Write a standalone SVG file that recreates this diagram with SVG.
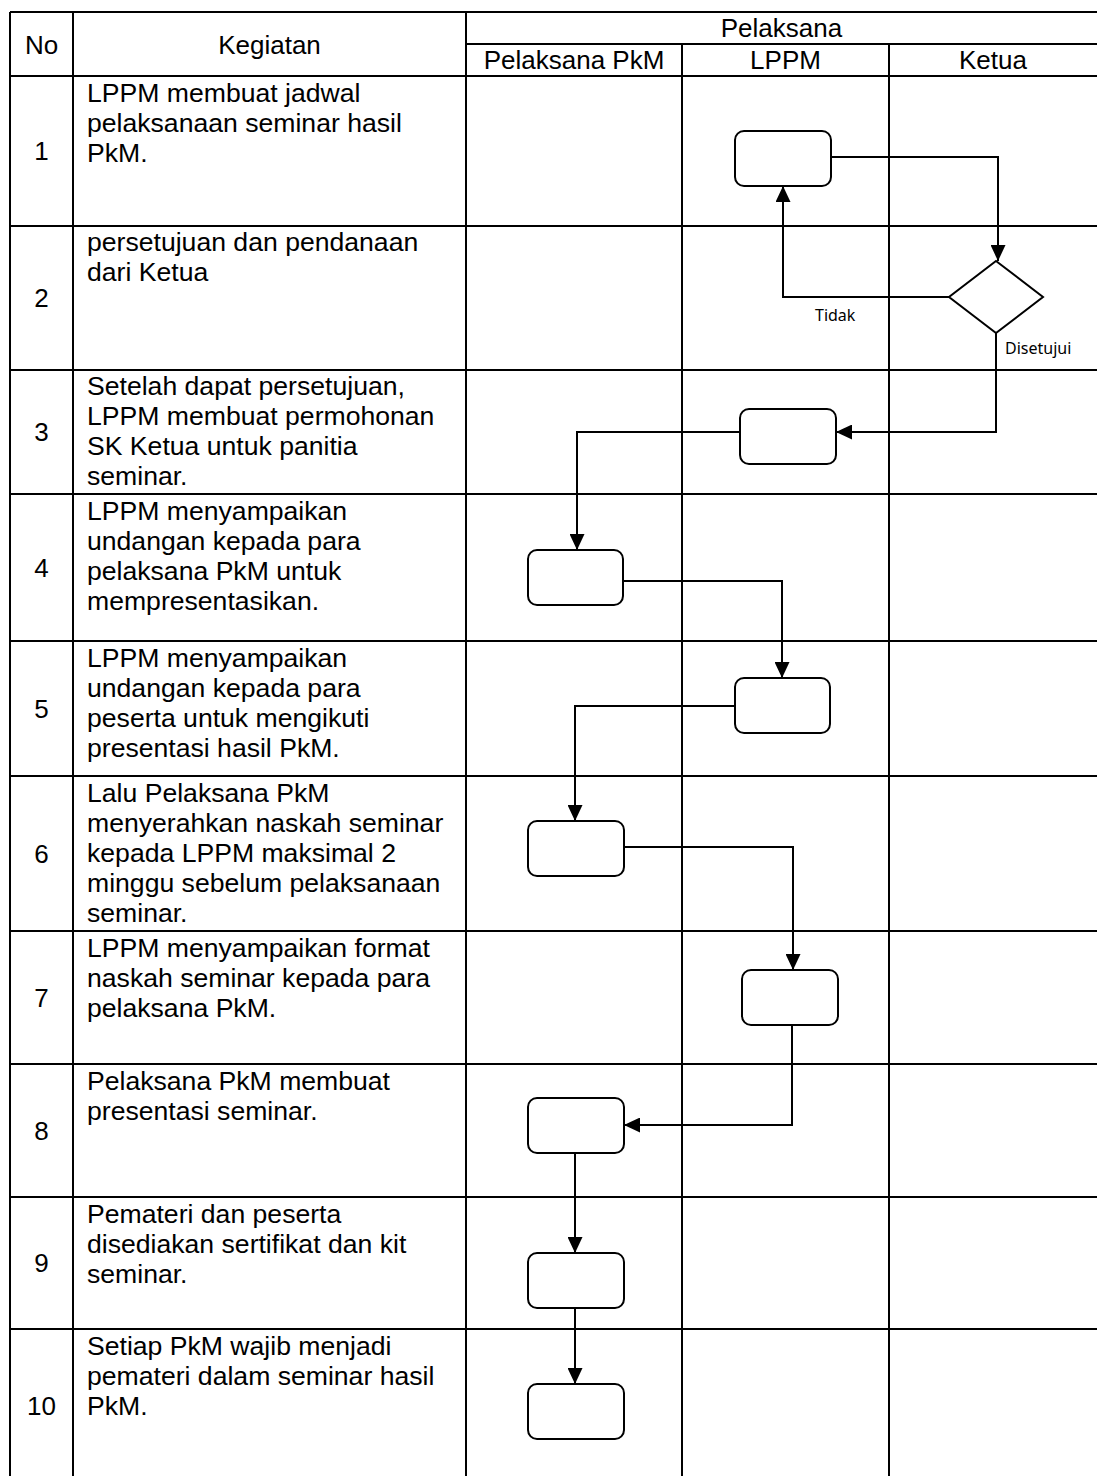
<svg xmlns="http://www.w3.org/2000/svg" width="1097" height="1476" viewBox="0 0 1097 1476">
<style>
.grid{stroke:#000;stroke-width:2;fill:none}
.hd{font-family:"Liberation Sans",Arial,sans-serif;font-size:26px;fill:#000;text-anchor:middle}
.no{font-family:"Liberation Sans",Arial,sans-serif;font-size:26px;fill:#000;text-anchor:middle}
.tx{font-family:"Liberation Sans",Arial,sans-serif;font-size:26.6px;fill:#000}
.lbl{font-family:"Noto Sans","DejaVu Sans",sans-serif;font-size:16px;fill:#000}
.box{fill:#fff;stroke:#000;stroke-width:2}
.con{fill:none;stroke:#000;stroke-width:2}
</style>
<defs>
<marker id="arr" markerUnits="userSpaceOnUse" markerWidth="16" markerHeight="15" refX="16" refY="7.5" orient="auto">
<path d="M0,0 L16,7.5 L0,15 z" fill="#000"/>
</marker>
</defs>
<rect width="1097" height="1476" fill="#fff"/>
<g id="table">
<path class="grid" d="M10,12 H1097 M466,44 H1097 M10,76 H1097 M10,226 H1097 M10,370 H1097 M10,494 H1097 M10,641 H1097 M10,776 H1097 M10,931 H1097 M10,1064 H1097 M10,1197 H1097 M10,1329 H1097 M10,12 V1476 M73,12 V1476 M466,12 V1476 M682,44 V1476 M889,44 V1476"/>
<text class="hd" x="41.5" y="54">No</text>
<text class="hd" x="269.5" y="54">Kegiatan</text>
<text class="hd" x="781.5" y="37">Pelaksana</text>
<text class="hd" x="574" y="69">Pelaksana PkM</text>
<text class="hd" x="785.5" y="69">LPPM</text>
<text class="hd" x="993" y="69">Ketua</text>
</g>
<g id="rows">
<text class="no" x="41.5" y="160">1</text>
<text class="tx" x="87" y="102"><tspan x="87">LPPM membuat jadwal</tspan><tspan x="87" dy="30">pelaksanaan seminar hasil</tspan><tspan x="87" dy="30">PkM.</tspan></text>
<text class="no" x="41.5" y="307">2</text>
<text class="tx" x="87" y="251"><tspan x="87">persetujuan dan pendanaan</tspan><tspan x="87" dy="30">dari Ketua</tspan></text>
<text class="no" x="41.5" y="441">3</text>
<text class="tx" x="87" y="395"><tspan x="87">Setelah dapat persetujuan,</tspan><tspan x="87" dy="30">LPPM membuat permohonan</tspan><tspan x="87" dy="30">SK Ketua untuk panitia</tspan><tspan x="87" dy="30">seminar.</tspan></text>
<text class="no" x="41.5" y="577">4</text>
<text class="tx" x="87" y="520"><tspan x="87">LPPM menyampaikan</tspan><tspan x="87" dy="30">undangan kepada para</tspan><tspan x="87" dy="30">pelaksana PkM untuk</tspan><tspan x="87" dy="30">mempresentasikan.</tspan></text>
<text class="no" x="41.5" y="718">5</text>
<text class="tx" x="87" y="667"><tspan x="87">LPPM menyampaikan</tspan><tspan x="87" dy="30">undangan kepada para</tspan><tspan x="87" dy="30">peserta untuk mengikuti</tspan><tspan x="87" dy="30">presentasi hasil PkM.</tspan></text>
<text class="no" x="41.5" y="863">6</text>
<text class="tx" x="87" y="802"><tspan x="87">Lalu Pelaksana PkM</tspan><tspan x="87" dy="30">menyerahkan naskah seminar</tspan><tspan x="87" dy="30">kepada LPPM maksimal 2</tspan><tspan x="87" dy="30">minggu sebelum pelaksanaan</tspan><tspan x="87" dy="30">seminar.</tspan></text>
<text class="no" x="41.5" y="1007">7</text>
<text class="tx" x="87" y="957"><tspan x="87">LPPM menyampaikan format</tspan><tspan x="87" dy="30">naskah seminar kepada para</tspan><tspan x="87" dy="30">pelaksana PkM.</tspan></text>
<text class="no" x="41.5" y="1140">8</text>
<text class="tx" x="87" y="1090"><tspan x="87">Pelaksana PkM membuat</tspan><tspan x="87" dy="30">presentasi seminar.</tspan></text>
<text class="no" x="41.5" y="1272">9</text>
<text class="tx" x="87" y="1223"><tspan x="87">Pemateri dan peserta</tspan><tspan x="87" dy="30">disediakan sertifikat dan kit</tspan><tspan x="87" dy="30">seminar.</tspan></text>
<text class="no" x="41.5" y="1415">10</text>
<text class="tx" x="87" y="1355"><tspan x="87">Setiap PkM wajib menjadi</tspan><tspan x="87" dy="30">pemateri dalam seminar hasil</tspan><tspan x="87" dy="30">PkM.</tspan></text>
</g>
<g id="connectors">
<path class="con" d="M831,157 H998 V261" marker-end="url(#arr)"/>
<path class="con" d="M949,297 H783 V186" marker-end="url(#arr)"/>
<path class="con" d="M996,333 V432 H836" marker-end="url(#arr)"/>
<path class="con" d="M740,432 H577 V550" marker-end="url(#arr)"/>
<path class="con" d="M623,581 H782 V678" marker-end="url(#arr)"/>
<path class="con" d="M735,706 H575 V821" marker-end="url(#arr)"/>
<path class="con" d="M624,847 H793 V970" marker-end="url(#arr)"/>
<path class="con" d="M792,1025 V1125 H624" marker-end="url(#arr)"/>
<path class="con" d="M575,1153 V1253" marker-end="url(#arr)"/>
<path class="con" d="M575,1308 V1384" marker-end="url(#arr)"/>
<text class="lbl" x="815" y="321">Tidak</text>
<text class="lbl" x="1005" y="354">Disetujui</text>
</g>
<g id="n1"><rect class="box" x="735" y="131" width="96" height="55" rx="9"/></g>
<g id="n2"><polygon class="box" points="996,261 1043,297 996,333 949,297"/></g>
<g id="n3"><rect class="box" x="740" y="409" width="96" height="55" rx="9"/></g>
<g id="n4"><rect class="box" x="528" y="550" width="95" height="55" rx="9"/></g>
<g id="n5"><rect class="box" x="735" y="678" width="95" height="55" rx="9"/></g>
<g id="n6"><rect class="box" x="528" y="821" width="96" height="55" rx="9"/></g>
<g id="n7"><rect class="box" x="742" y="970" width="96" height="55" rx="9"/></g>
<g id="n8"><rect class="box" x="528" y="1098" width="96" height="55" rx="9"/></g>
<g id="n9"><rect class="box" x="528" y="1253" width="96" height="55" rx="9"/></g>
<g id="n10"><rect class="box" x="528" y="1384" width="96" height="55" rx="9"/></g>
</svg>
